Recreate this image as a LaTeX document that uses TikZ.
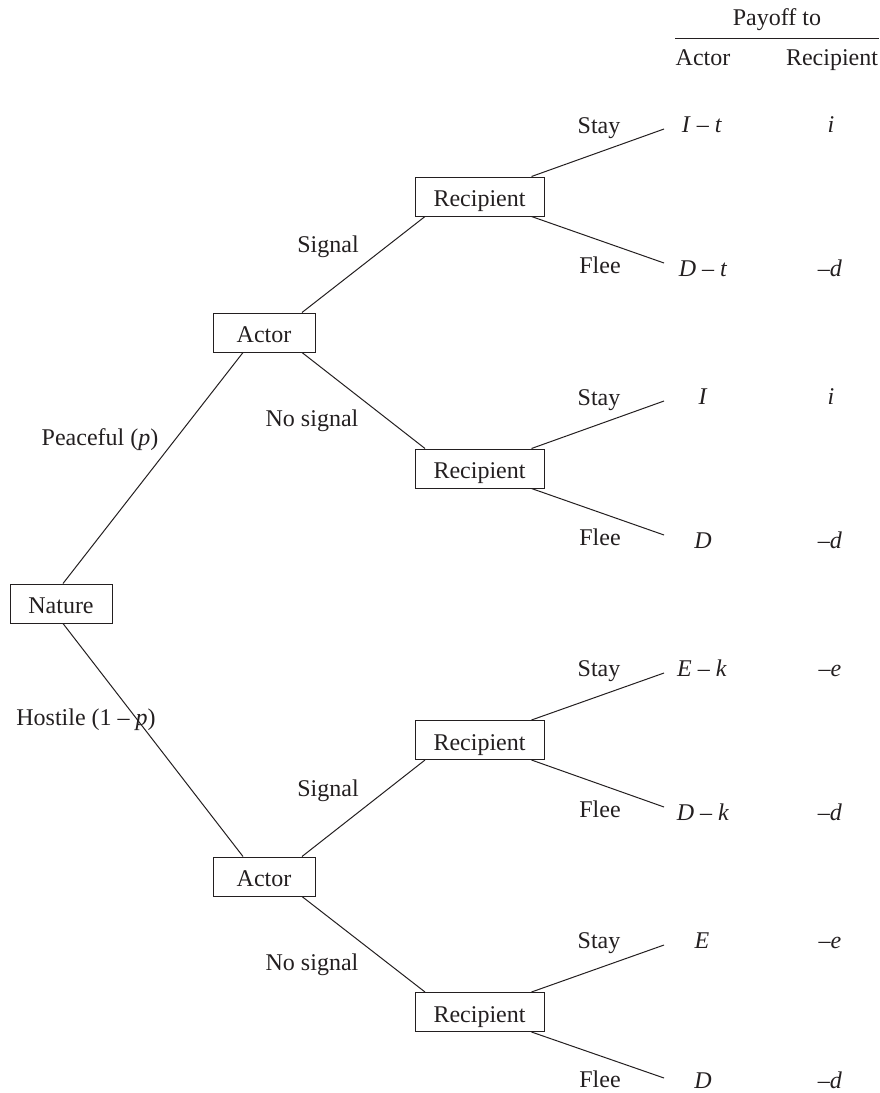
\documentclass[tikz,border=0pt]{standalone}
\usepackage{fontspec}
\setmainfont{Liberation Serif}
\definecolor{ink}{HTML}{231F20}
\begin{document}
\begin{tikzpicture}[x=0.5pt,y=-0.5pt,
  every node/.style={font=\fontsize{12}{14}\selectfont, text=ink},
  decbox/.style={draw=ink, line width=0.5pt, inner sep=0pt, minimum height=19.5pt, text height=10pt, text depth=0pt},
  natbox/.style={decbox, minimum width=51pt},
  actbox/.style={decbox, minimum width=51pt},
  recbox/.style={decbox, minimum width=64.5pt},
  lbl/.style={anchor=base, inner sep=0pt},
  edge/.style={draw=ink, line width=0.5pt}]
\useasboundingbox (0,0) rectangle (879,1093);

% header
\node[lbl] (hpay) at (777,25) {Payoff to};
\coordinate (rl) at (675,38);
\coordinate (rr) at (879,38);
\draw[edge] (rl) -- (rr);
\node[lbl] (hact) at (703,65) {Actor};
\node[lbl] (hrec) at (832,65) {Recipient};

% decision nodes
\node[natbox] (nat) at (61,603.5) {Nature};
\node[actbox] (a1) at (264,332.5) {Actor};
\node[actbox] (a2) at (264,876.5) {Actor};
\node[recbox] (r1) at (479.5,196.5) {Recipient};
\node[recbox] (r2) at (479.5,468.5) {Recipient};
\node[recbox] (r3) at (479.5,740) {Recipient};
\node[recbox] (r4) at (479.5,1012) {Recipient};

% leaf ends
\coordinate (s1) at (664,129);
\coordinate (f1) at (664,263);
\coordinate (s2) at (664,401);
\coordinate (f2) at (664,535);
\coordinate (s3) at (664,673);
\coordinate (f3) at (664,807);
\coordinate (s4) at (664,945);
\coordinate (f4) at (664,1078);

% connectors
\draw[edge] ([xshift=1pt]nat.north) -- ([xshift=-10.5pt]a1.south);
\draw[edge] ([xshift=1pt]nat.south) -- ([xshift=-10.5pt]a2.north);
\draw[edge] ([xshift=19pt]a1.north) -- ([xshift=-27.25pt]r1.south);
\draw[edge] ([xshift=19pt]a1.south) -- ([xshift=-27.25pt]r2.north);
\draw[edge] ([xshift=19pt]a2.north) -- ([xshift=-27.25pt]r3.south);
\draw[edge] ([xshift=19pt]a2.south) -- ([xshift=-27.25pt]r4.north);
\foreach \r/\s/\f in {r1/s1/f1, r2/s2/f2, r3/s3/f3, r4/s4/f4}{
  \draw[edge] ([xshift=26pt]\r.north) -- (\s);
  \draw[edge] ([xshift=26pt]\r.south) -- (\f);
}

% branch labels
\node[lbl] (lpe) at (100,445) {Peaceful (\textit{p})};
\node[lbl] (lho) at (86,725) {Hostile (1 – \textit{p})};
\node[lbl] (ls1) at (328,252) {Signal};
\node[lbl] (ln1) at (312,426) {No signal};
\node[lbl] (ls2) at (328,796) {Signal};
\node[lbl] (ln2) at (312,970) {No signal};

\foreach \y [count=\i] in {133,405,676,948}{
  \node[lbl] (st\i) at (599,\y) {Stay};
}
\foreach \y [count=\i] in {273,545,817,1087}{
  \node[lbl] (fl\i) at (600,\y) {Flee};
}

% payoffs
\node[lbl] (p1a) at (702,132) {\textit{I} – \textit{t}};
\node[lbl] (p1b) at (831,132) {\textit{i}};
\node[lbl] (p2a) at (703,276) {\textit{D} – \textit{t}};
\node[lbl] (p2b) at (830,276) {–\textit{d}};
\node[lbl] (p3a) at (703,404) {\textit{I}};
\node[lbl] (p3b) at (831,404) {\textit{i}};
\node[lbl] (p4a) at (703,548) {\textit{D}};
\node[lbl] (p4b) at (830,548) {–\textit{d}};
\node[lbl] (p5a) at (702,676) {\textit{E} – \textit{k}};
\node[lbl] (p5b) at (830,676) {–\textit{e}};
\node[lbl] (p6a) at (703,820) {\textit{D} – \textit{k}};
\node[lbl] (p6b) at (830,820) {–\textit{d}};
\node[lbl] (p7a) at (702,948) {\textit{E}};
\node[lbl] (p7b) at (830,948) {–\textit{e}};
\node[lbl] (p8a) at (703,1088) {\textit{D}};
\node[lbl] (p8b) at (830,1088) {–\textit{d}};
\end{tikzpicture}
\end{document}
